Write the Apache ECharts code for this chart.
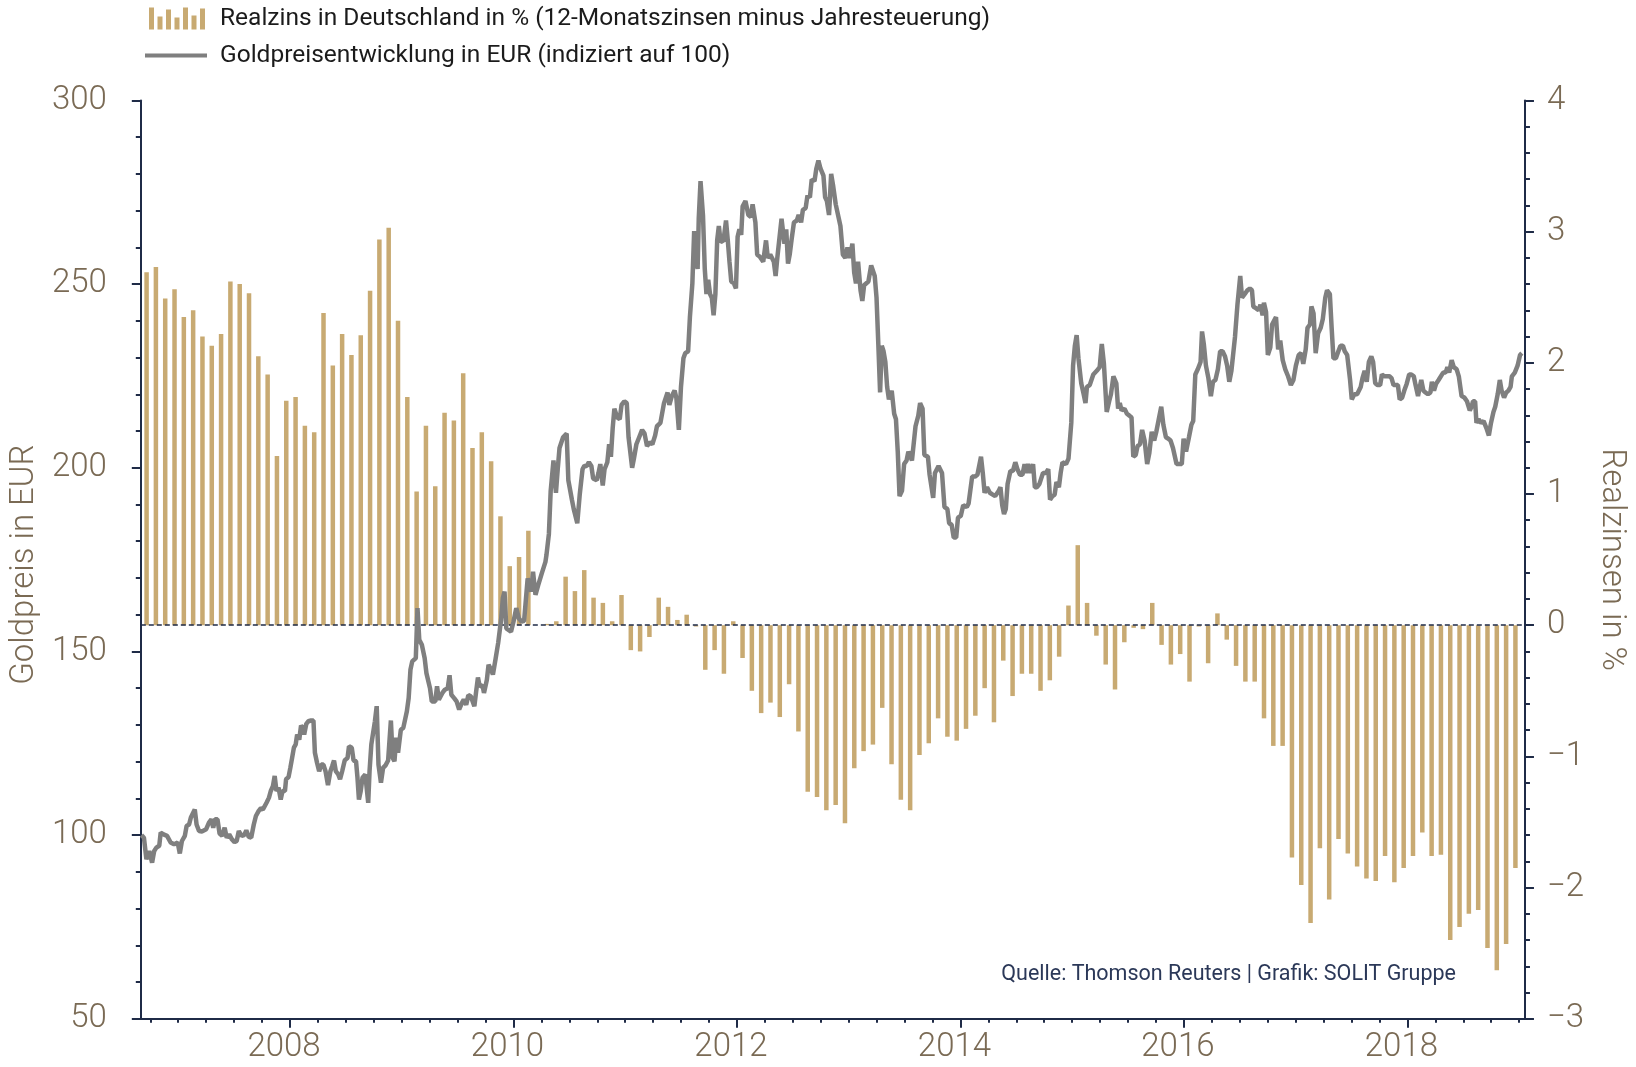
<!DOCTYPE html>
<html>
<head>
<meta charset="utf-8">
<title>Goldpreis und Realzins in Deutschland</title>
<script src="https://cdn.jsdelivr.net/npm/echarts@6.0.0/dist/echarts.min.js"></script>
<style>
    html, body { margin: 0; padding: 0; background: #fff; }
    #chart { width: 1636px; height: 1067px; }
</style>
</head>
<body>
<div id="chart"></div>
<script>
const barName = 'Realzins in Deutschland in % (12-Monatszinsen minus Jahresteuerung)'
const lineName = 'Goldpreisentwicklung in EUR (indiziert auf 100)'
const sourceText = 'Quelle: Thomson Reuters | Grafik: SOLIT Gruppe'

const yearLabels = [2008, 2010, 2012, 2014, 2016, 2018]

// Realzins, monatlich, Sep 2006 .. Dez 2018
const realzinsStart = { year: 2006, month: 9 }
const realzins = [
    2.69, 2.73, 2.49, 2.56, 2.35, 2.40, 2.20, 2.13, 2.22, 2.62, 2.60, 2.53,
    2.05, 1.91, 1.29, 1.71, 1.74, 1.52, 1.47, 2.38, 1.98, 2.22, 2.06, 2.21,
    2.55, 2.94, 3.03, 2.32, 1.74, 1.02, 1.52, 1.06, 1.62, 1.56, 1.92, 1.35,
    1.47, 1.25, 0.83, 0.45, 0.52, 0.72, 0.00, 0.01, 0.03, 0.37, 0.26, 0.42,
    0.21, 0.17, 0.03, 0.23, -0.19, -0.20, -0.09, 0.21, 0.14, 0.04, 0.08, -0.01,
    -0.34, -0.19, -0.37, 0.03, -0.25, -0.50, -0.67, -0.59, -0.70, -0.45, -0.81, -1.27,
    -1.31, -1.41, -1.37, -1.51, -1.09, -0.96, -0.91, -0.63, -1.06, -1.33, -1.41, -0.99,
    -0.90, -0.71, -0.85, -0.88, -0.79, -0.69, -0.48, -0.74, -0.27, -0.54, -0.37, -0.37,
    -0.50, -0.42, -0.24, 0.15, 0.61, 0.17, -0.08, -0.30, -0.49, -0.13, -0.02, -0.03,
    0.17, -0.15, -0.30, -0.22, -0.43, -0.01, -0.29, 0.09, -0.11, -0.31, -0.43, -0.43,
    -0.71, -0.92, -0.92, -1.77, -1.98, -2.27, -1.70, -2.09, -1.63, -1.74, -1.84, -1.93,
    -1.95, -1.76, -1.96, -1.85, -1.76, -1.58, -1.76, -1.75, -2.40, -2.30, -2.20, -2.17,
    -2.46, -2.63, -2.43, -1.85
]

// Goldpreis in EUR, indiziert (Zeit als Dezimaljahr, Wert)
const gold2006 = [
    [2006.671,100.0],[2006.693,99.3],[2006.715,93.4],[2006.741,95.7],[2006.766,92.5],[2006.785,95.7],
    [2006.804,96.6],[2006.830,97.1],[2006.843,100.7],[2006.868,100.2],[2006.900,99.8],[2006.932,98.0],
    [2006.963,97.5],[2006.995,98.0],[2007.014,95.0],[2007.033,98.4],[2007.059,99.8],[2007.075,102.5],
    [2007.097,102.9],[2007.113,104.8],[2007.129,104.3],[2007.148,107.0],[2007.164,102.9],[2007.186,101.1],
    [2007.211,101.0],[2007.250,101.6],[2007.275,103.4],[2007.297,104.3],[2007.313,102.0],[2007.329,104.3],
    [2007.351,104.3],[2007.370,100.4],[2007.393,99.8],[2007.415,102.0],[2007.434,99.3],[2007.456,100.2],
    [2007.479,98.9],[2007.504,98.1],[2007.523,98.4],[2007.542,101.1],[2007.568,99.8],[2007.590,100.0],
    [2007.609,101.3],[2007.631,99.5],[2007.653,99.3],[2007.676,102.9],[2007.695,105.2],[2007.720,106.6],
    [2007.739,107.3],[2007.758,107.0],[2007.790,108.8],[2007.812,110.2],[2007.828,112.0],[2007.847,113.3],
    [2007.863,116.1],[2007.879,112.0],[2007.898,112.9],[2007.917,109.7],[2007.933,112.0],[2007.955,112.0],
    [2007.965,115.2],[2007.987,115.8],[2008.003,118.3],[2008.019,121.0],[2008.035,123.8],[2008.051,124.7],
    [2008.064,127.4],[2008.083,126.0],[2008.099,129.8],[2008.114,129.2],[2008.127,127.4],[2008.146,130.3],
    [2008.165,131.0],[2008.188,131.2],[2008.210,131.2],[2008.223,122.4],[2008.242,119.7],[2008.261,117.4],
    [2008.280,119.2],[2008.299,119.2],[2008.318,117.4],[2008.340,113.6],[2008.362,117.4],[2008.378,118.8],
    [2008.394,120.3],[2008.410,117.4],[2008.432,116.5],[2008.448,115.2],[2008.467,117.4],[2008.490,120.4],
    [2008.515,121.0],[2008.528,124.2],[2008.553,123.8],[2008.569,120.3],[2008.591,120.1],[2008.604,115.6],
    [2008.617,109.7],[2008.633,112.0],[2008.649,115.6],[2008.674,116.5],[2008.687,116.5],[2008.700,108.8],
    [2008.712,117.4],[2008.728,124.7],[2008.744,125.1],[2008.760,131.0],[2008.776,135.1],[2008.792,119.2],
    [2008.814,114.3],[2008.833,118.3],[2008.855,119.0],[2008.878,120.3],[2008.903,131.2],[2008.919,121.0],
    [2008.935,120.1],[2008.951,126.5],[2008.967,122.4],[2008.983,122.4],[2008.992,128.7],[2009.014,129.2],
    [2009.030,128.7],[2009.046,133.7],[2009.062,137.3],[2009.078,145.0],[2009.094,147.3],[2009.110,146.8],
    [2009.126,148.2],[2009.141,161.8],[2009.157,153.2],[2009.180,151.8],[2009.205,148.2],[2009.221,144.1],
    [2009.237,143.7],[2009.253,140.0],[2009.269,136.4],[2009.285,136.4],[2009.300,136.4],[2009.316,140.5],
    [2009.332,136.9],[2009.348,137.3],[2009.364,138.7],[2009.386,139.6],[2009.412,140.0],[2009.428,143.5],
    [2009.444,138.2],[2009.469,137.3],[2009.491,136.4],[2009.514,134.2],[2009.539,136.0],[2009.555,136.9],
    [2009.577,135.5],[2009.596,138.1],[2009.618,137.8],[2009.650,135.1],[2009.666,139.1],[2009.682,142.9],
    [2009.698,140.5],[2009.723,140.8],[2009.736,138.7],[2009.762,142.3],[2009.777,146.4],[2009.800,145.0],
    [2009.816,143.7],[2009.841,148.2],[2009.863,152.3],[2009.889,158.6],[2009.905,164.5],[2009.920,166.3],
    [2009.936,156.3],[2009.952,155.9],[2009.978,155.4],[2010.000,158.1],[2010.025,161.8],[2010.048,159.0],
    [2010.073,158.1],[2010.095,158.3],[2010.111,158.1],[2010.127,169.9],[2010.143,168.1],[2010.159,166.3],
    [2010.175,171.7],[2010.197,165.4],[2010.222,168.1],[2010.254,171.3],[2010.286,174.4]
]

const gold2010 = [
    [2010.295,176.2],[2010.317,182.0],[2010.333,193.7],[2010.358,202.0],[2010.380,193.2],[2010.396,199.6],
    [2010.412,205.4],[2010.444,208.3],[2010.476,209.3],[2010.491,196.6],[2010.523,191.3],[2010.539,188.8],
    [2010.571,184.9],[2010.593,192.7],[2010.618,199.6],[2010.634,200.5],[2010.656,200.5],[2010.675,201.5],
    [2010.697,200.5],[2010.713,197.1],[2010.745,196.6],[2010.761,198.6],[2010.777,201.0],[2010.799,195.2],
    [2010.815,199.6],[2010.840,201.5],[2010.856,206.4],[2010.872,203.0],[2010.888,210.8],[2010.903,216.1],
    [2010.929,213.7],[2010.951,213.2],[2010.967,217.1],[2010.992,218.1],[2011.014,217.6],[2011.030,208.3],
    [2011.062,200.0],[2011.078,202.5],[2011.100,206.4],[2011.125,208.3],[2011.151,210.3],[2011.173,209.3],
    [2011.195,205.9],[2011.220,206.9],[2011.243,206.4],[2011.268,208.8],[2011.284,211.3],[2011.315,212.2],
    [2011.331,211.7],[2011.347,217.6],[2011.379,220.5],[2011.395,217.1],[2011.417,219.5],[2011.442,221.0],
    [2011.458,219.0],[2011.480,210.3],[2011.499,222.0],[2011.521,229.8],[2011.537,231.2],[2011.563,231.7],
    [2011.579,241.0],[2011.601,250.2],[2011.617,264.4],[2011.632,263.9],[2011.648,254.1],[2011.658,267.8],
    [2011.674,278.0],[2011.696,268.7],[2011.712,254.1],[2011.727,247.3],[2011.743,251.2],[2011.759,247.3],
    [2011.775,246.3],[2011.791,241.5],[2011.807,247.3],[2011.823,261.9],[2011.838,265.8],[2011.854,261.4],
    [2011.880,261.9],[2011.902,267.3],[2011.918,261.9],[2011.933,256.1],[2011.949,250.7],[2011.971,250.3],
    [2011.991,248.8],[2012.006,262.9],[2012.022,264.9],[2012.038,263.4],[2012.051,271.2],[2012.076,272.6],
    [2012.102,268.8],[2012.124,268.3],[2012.140,271.7],[2012.165,266.8],[2012.181,258.0],[2012.203,257.5],
    [2012.235,256.1],[2012.260,261.9],[2012.276,257.1],[2012.298,258.0],[2012.314,257.1],[2012.330,256.1],
    [2012.346,252.2],[2012.361,257.1],[2012.377,257.1],[2012.399,267.8],[2012.425,261.0],[2012.441,264.9],
    [2012.457,255.6],[2012.472,258.0],[2012.488,261.9],[2012.510,266.8],[2012.536,267.3],[2012.552,268.8],
    [2012.574,266.8],[2012.590,270.2],[2012.615,270.7],[2012.631,274.1],[2012.653,273.6],[2012.669,278.5],
    [2012.694,278.0],[2012.710,281.4],[2012.729,283.6],[2012.748,281.4],[2012.774,279.5],[2012.789,273.6],
    [2012.805,272.6],[2012.824,268.8],[2012.843,280.0],[2012.862,276.5],[2012.884,271.7],[2012.900,271.2],
    [2012.926,265.8],[2012.948,258.0],[2012.970,257.1],[2012.989,260.0],[2013.011,257.1],[2013.033,261.0],
    [2013.049,253.2],[2013.065,250.2],[2013.084,256.1],[2013.106,248.3],[2013.122,245.4],[2013.138,249.7],
    [2013.154,250.2],[2013.176,250.7],[2013.201,255.1],[2013.217,255.6],[2013.233,252.2],[2013.249,246.3],
    [2013.265,233.7],[2013.281,220.5],[2013.296,233.2],[2013.312,231.7],[2013.328,228.8],[2013.344,222.0],
    [2013.360,218.6],[2013.385,221.0],[2013.407,214.7],[2013.423,213.2],[2013.439,204.4],[2013.455,192.3],
    [2013.477,193.7],[2013.496,201.0],[2013.518,202.0],[2013.534,204.4],[2013.566,202.0],[2013.582,202.5],
    [2013.598,211.3],[2013.623,214.2],[2013.639,217.6],[2013.661,216.1],[2013.677,203.5],[2013.709,203.0],
    [2013.724,198.1],[2013.756,191.8],[2013.772,198.6],[2013.804,200.5],[2013.835,198.6],[2013.857,189.3],
    [2013.883,188.8],[2013.899,184.9],[2013.921,184.5],[2013.940,181.0],[2013.962,181.0],[2013.978,186.4],
    [2014.003,186.9],[2014.025,189.8],[2014.057,189.3],[2014.073,190.3],[2014.105,197.6],[2014.130,197.6],
    [2014.152,198.1],[2014.184,203.0],[2014.200,198.6],[2014.216,193.2],[2014.238,194.7],[2014.263,193.2],
    [2014.289,192.7],[2014.311,192.3],[2014.342,193.7],[2014.358,194.7],[2014.374,189.8],[2014.390,187.4],
    [2014.406,188.8],[2014.422,195.6],[2014.447,199.1],[2014.469,199.1],[2014.491,201.5],[2014.510,199.6],
    [2014.533,198.1],[2014.555,198.1],[2014.574,201.0],[2014.587,198.6],[2014.605,201.0],[2014.628,198.6],
    [2014.650,201.0],[2014.666,194.7],[2014.685,194.7],[2014.707,195.6],[2014.723,195.6],[2014.739,198.6],
    [2014.764,198.6],[2014.786,199.6],[2014.802,191.3],[2014.824,192.3],[2014.843,192.7],[2014.859,196.1],
    [2014.881,194.7],[2014.897,198.6],[2014.913,201.5],[2014.945,201.0],[2014.967,202.5],[2014.992,212.2],
    [2015.008,227.8],[2015.024,233.2],[2015.040,236.1],[2015.056,229.8],[2015.081,223.0],[2015.103,220.0],
    [2015.119,217.6]
]

const gold2015 = [
    [2015.132,222.0],[2015.157,222.5],[2015.189,225.4],[2015.220,226.4],[2015.246,227.4],[2015.265,233.7],
    [2015.284,228.3],[2015.309,215.2],[2015.331,218.1],[2015.347,220.0],[2015.369,224.9],[2015.395,223.0],
    [2015.411,216.1],[2015.426,217.6],[2015.442,215.6],[2015.468,216.1],[2015.490,214.7],[2015.512,214.2],
    [2015.531,213.7],[2015.547,203.0],[2015.569,203.5],[2015.585,205.9],[2015.607,206.4],[2015.626,210.3],
    [2015.648,207.4],[2015.671,201.0],[2015.690,203.9],[2015.712,209.8],[2015.734,207.4],[2015.753,209.8],
    [2015.775,213.2],[2015.797,216.6],[2015.816,211.7],[2015.839,208.3],[2015.861,207.9],[2015.880,207.4],
    [2015.902,205.4],[2015.918,204.9],[2015.934,201.0],[2015.956,201.0],[2015.981,201.0],[2015.997,207.9],
    [2016.019,204.4],[2016.045,208.3],[2016.067,211.7],[2016.083,212.7],[2016.102,225.4],[2016.124,226.8],
    [2016.149,228.8],[2016.162,237.1],[2016.178,233.7],[2016.197,227.8],[2016.219,224.4],[2016.241,219.5],
    [2016.260,223.4],[2016.282,223.9],[2016.304,226.8],[2016.324,231.7],[2016.346,231.7],[2016.368,230.3],
    [2016.387,227.8],[2016.406,223.4],[2016.425,226.4],[2016.457,235.6],[2016.479,244.4],[2016.504,252.2],
    [2016.520,246.3],[2016.545,247.3],[2016.568,248.3],[2016.590,248.8],[2016.609,248.3],[2016.621,243.9],
    [2016.647,243.4],[2016.669,242.9],[2016.685,244.4],[2016.704,241.5],[2016.716,244.9],[2016.735,242.4],
    [2016.751,230.7],[2016.773,232.7],[2016.789,239.0],[2016.805,239.0],[2016.824,241.0],[2016.843,232.2],
    [2016.862,234.6],[2016.884,229.3],[2016.907,226.8],[2016.932,224.9],[2016.957,222.5],[2016.980,223.9],
    [2017.002,227.8],[2017.027,230.7],[2017.049,231.2],[2017.068,228.3],[2017.090,232.2],[2017.106,238.1],
    [2017.128,239.0],[2017.141,243.9],[2017.160,242.0],[2017.179,231.2],[2017.201,236.6],[2017.224,238.1],
    [2017.243,240.5],[2017.265,246.3],[2017.281,248.3],[2017.306,247.3],[2017.322,238.1],[2017.338,229.8],
    [2017.360,229.8],[2017.382,231.7],[2017.401,233.2],[2017.423,233.2],[2017.439,231.7],[2017.461,230.7],
    [2017.487,223.9],[2017.502,218.6],[2017.525,220.0],[2017.550,220.0],[2017.566,220.5],[2017.582,222.0],
    [2017.598,224.4],[2017.617,226.4],[2017.636,223.4],[2017.655,228.8],[2017.677,230.3],[2017.693,228.8],
    [2017.712,223.0],[2017.734,222.5],[2017.756,222.5],[2017.772,225.4],[2017.794,224.9],[2017.820,224.9],
    [2017.839,224.9],[2017.858,224.4],[2017.876,222.5],[2017.892,222.0],[2017.915,222.5],[2017.931,218.6],
    [2017.953,219.1],[2017.972,221.0],[2017.994,222.9],[2018.016,225.4],[2018.035,225.4],[2018.057,224.9],
    [2018.073,222.5],[2018.095,219.5],[2018.111,222.0],[2018.124,223.9],[2018.143,221.0],[2018.162,220.5],
    [2018.184,220.0],[2018.206,220.5],[2018.219,223.4],[2018.238,221.0],[2018.257,222.9],[2018.279,223.9],
    [2018.295,223.9],[2018.320,225.9],[2018.342,225.9],[2018.358,227.4],[2018.374,225.9],[2018.396,229.3],
    [2018.415,227.4],[2018.441,226.8],[2018.460,224.9],[2018.485,219.5],[2018.510,219.1],[2018.533,218.1],
    [2018.558,215.6],[2018.574,216.6],[2018.587,218.1],[2018.606,218.1],[2018.618,212.2],[2018.637,213.2],
    [2018.660,212.2],[2018.682,212.7],[2018.707,210.8],[2018.729,208.8],[2018.748,212.2],[2018.770,215.2],
    [2018.786,216.6],[2018.808,220.0],[2018.827,223.9],[2018.843,221.0],[2018.865,219.1],[2018.885,220.5],
    [2018.904,221.0],[2018.923,222.0],[2018.935,224.9],[2018.961,225.9],[2018.986,227.8],[2019.008,230.7],
    [2019.024,231.2]
]

const fontFamily = 'Roboto'
const labelColor = '#7a6a54'
const axisColor = '#1f2b47'
const barColor = '#c8aa72'
const lineColor = '#7f7f7f'

// monthly bars sit a bit past the start of each month
let barData = realzins.map(function (v, i) {
    let m = realzinsStart.month - 1 + i
    let x = realzinsStart.year + (m + 0.6) / 12
    return [x, v]
})

let goldData = gold2006.concat(gold2010, gold2015)

let quarterTicks = []
for (let q = 2006.75; q <= 2019.001; q += 0.25) {
    quarterTicks.push(Math.round(q * 100) / 100)
}

let barIcon = 'path://M0,0h5v22h-5z M8.5,9h5v13h-5z M17,2h5v20h-5z M25.5,10h5v12h-5z M34,0h5v22h-5z M42.5,8h5v14h-5z M51,1h5v21h-5z'

let minus = function (v) {
    return v < 0 ? '\u2212' + Math.abs(v) : String(v)
}

let labelStyle = {
    fontFamily: fontFamily,
    fontSize: 33,
    fontWeight: 300,
    color: labelColor
}

let legendText = { fontFamily: fontFamily, fontSize: 24.5, color: '#1b1b1b' }

let option = {
    animation: false,
    backgroundColor: '#ffffff',
    grid: { left: 133.6, right: 107, top: 100.4, bottom: 48.2 },
    legend: [
        {
            data: [{ name: barName, icon: barIcon }],
            left: 149,
            top: 6,
            padding: 0,
            itemWidth: 56,
            itemHeight: 22,
            selectedMode: false,
            textStyle: Object.assign({ padding: [0, 0, 0, 10] }, legendText)
        },
        {
            data: [{ name: lineName, icon: 'rect' }],
            left: 145,
            top: 43,
            padding: 0,
            itemWidth: 62,
            itemHeight: 4,
            selectedMode: false,
            textStyle: Object.assign({ padding: [0, 0, 0, 8] }, legendText)
        }
    ],
    xAxis: [
        {
            type: 'value',
            position: 'bottom',
            min: 2006.665,
            max: 2019.052,
            axisLine: { onZero: false, lineStyle: { color: axisColor, width: 2 } },
            axisTick: { customValues: yearLabels, length: 9, lineStyle: { color: axisColor, width: 2 } },
            axisLabel: Object.assign({
                customValues: yearLabels,
                margin: 12,
                padding: [0, 12, 0, 0],
                formatter: function (v) { return String(Math.round(v)) }
            }, labelStyle),
            splitLine: { show: false }
        },
        {
            type: 'value',
            position: 'bottom',
            min: 2006.665,
            max: 2019.052,
            axisLine: { show: false, onZero: false },
            axisTick: { customValues: quarterTicks, length: 4, lineStyle: { color: axisColor, width: 2 } },
            axisLabel: { show: false },
            splitLine: { show: false }
        }
    ],
    yAxis: [
        {
            type: 'value',
            position: 'left',
            min: 50,
            max: 300,
            interval: 50,
            name: 'Goldpreis in EUR',
            nameLocation: 'middle',
            nameRotate: 90,
            nameGap: 86,
            nameTextStyle: Object.assign({ padding: [0, 10, 0, 0] }, labelStyle),
            axisLine: { show: true, lineStyle: { color: axisColor, width: 2 } },
            axisTick: { show: true, length: 9, lineStyle: { color: axisColor, width: 2 } },
            minorTick: { show: true, splitNumber: 5, length: 5, lineStyle: { color: axisColor, width: 2 } },
            axisLabel: Object.assign({ margin: 34 }, labelStyle),
            splitLine: { show: false }
        },
        {
            type: 'value',
            position: 'right',
            min: -3,
            max: 4,
            interval: 1,
            name: 'Realzinsen in %',
            nameLocation: 'middle',
            nameRotate: -90,
            nameGap: 55,
            nameTextStyle: labelStyle,
            axisLine: { show: true, lineStyle: { color: axisColor, width: 2 } },
            axisTick: { show: true, length: 9, lineStyle: { color: axisColor, width: 2 } },
            minorTick: { show: true, splitNumber: 5, length: 5, lineStyle: { color: axisColor, width: 2 } },
            axisLabel: Object.assign({ margin: 22, formatter: minus }, labelStyle),
            splitLine: { show: false }
        }
    ],
    series: [
        {
            name: barName,
            type: 'bar',
            xAxisIndex: 0,
            yAxisIndex: 1,
            barWidth: 4.5,
            itemStyle: { color: barColor },
            data: barData,
            markLine: {
                silent: true,
                symbol: 'none',
                label: { show: false },
                lineStyle: { color: axisColor, type: [5, 3], width: 1.6 },
                data: [{ yAxis: 0 }]
            }
        },
        {
            name: lineName,
            type: 'line',
            xAxisIndex: 0,
            yAxisIndex: 0,
            showSymbol: false,
            symbol: 'none',
            itemStyle: { color: lineColor },
            lineStyle: { color: lineColor, width: 4.5 },
            data: goldData,
            z: 5
        }
    ],
    graphic: [
        {
            type: 'text',
            right: 180,
            top: 964,
            style: {
                text: sourceText,
                fontFamily: fontFamily,
                fontSize: 21.5,
                fill: '#2b3858'
            }
        }
    ]
}

let myChart = echarts.init(document.getElementById('chart'))
myChart.setOption(option)
</script>
</body>
</html>
